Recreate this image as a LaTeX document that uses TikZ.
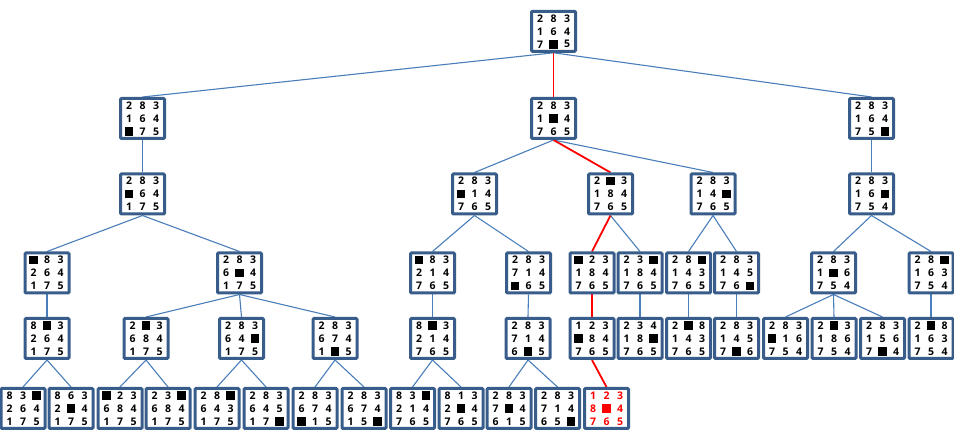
\documentclass[tikz,border=0pt]{standalone}
\usepackage{fontspec}
\setmainfont{Open Sans}
\usetikzlibrary{backgrounds}
\definecolor{boxblue}{HTML}{385D8A}
\definecolor{lineblue}{HTML}{4A7EBB}
\definecolor{pathred}{HTML}{FF0000}
\tikzset{
  pbox/.style={draw=boxblue, line width=3pt, fill=white, rounded corners=1pt,
    minimum width=44pt, minimum height=40pt, inner sep=0pt},
  cellt/.style={inner sep=0pt, font=\fontsize{10.5}{10.5}\selectfont\bfseries},
  edge/.style={draw=lineblue, line width=1.1pt},
  redge/.style={draw=pathred, line width=1.8pt},
}
\newcommand\cell[3]{\node[cellt] at (#1,#2) {\ifx#3B\rule{8.5pt}{8.5pt}\else#3\fi};}
\newcommand\prow[6]{\cell{#1-13.5}{#2+#3}{#4}\cell{#1}{#2+#3}{#5}\cell{#1+13.5}{#2+#3}{#6}}
\newcommand\pz[6]{%
  \node[pbox] (#1) at (#2,#3) {};
  \prow{#2}{#3}{-13}#4
  \prow{#2}{#3}{0}#5
  \prow{#2}{#3}{13}#6}
\begin{document}
\begin{tikzpicture}[x=1pt,y=-1pt]
\useasboundingbox (0,0) rectangle (954,438);
% level 0
\pz{L0}{553.5}{31.3}{283}{164}{7B5}
% level 1
\pz{L1a}{142.5}{118.5}{283}{164}{B75}
\pz{L1b}{553.5}{118.5}{283}{1B4}{765}
\pz{L1c}{871.5}{118.5}{283}{164}{75B}
% level 2
\pz{L2a}{142.5}{194}{283}{B64}{175}
\pz{L2b}{474.5}{194}{283}{B14}{765}
\pz{L2c}{610.5}{194}{2B3}{184}{765}
\pz{L2d}{713}{194}{283}{14B}{765}
\pz{L2e}{871.5}{194}{283}{16B}{754}
% level 3
\pz{L3a}{47}{273}{B83}{264}{175}
\pz{L3b}{239.5}{273}{283}{6B4}{175}
\pz{L3c}{432.5}{273}{B83}{214}{765}
\pz{L3d}{528.5}{273}{283}{714}{B65}
\pz{L3e}{592}{273}{B23}{184}{765}
\pz{L3f}{640}{273}{23B}{184}{765}
\pz{L3g}{688.5}{273}{28B}{143}{765}
\pz{L3h}{736.5}{273}{283}{145}{76B}
\pz{L3i}{833.5}{273}{283}{1B6}{754}
\pz{L3j}{931}{273}{28B}{163}{754}
% level 4
\pz{L4a}{47}{338.5}{8B3}{264}{175}
\pz{L4b}{146}{338.5}{2B3}{684}{175}
\pz{L4c}{241.5}{338.5}{283}{64B}{175}
\pz{L4d}{335}{338.5}{283}{674}{1B5}
\pz{L4e}{432.5}{338.5}{8B3}{214}{765}
\pz{L4f}{528}{338.5}{283}{714}{6B5}
\pz{L4g}{592}{338.5}{123}{B84}{765}
\pz{L4h}{640}{338.5}{234}{18B}{765}
\pz{L4i}{688.5}{338.5}{2B8}{143}{765}
\pz{L4j}{736.5}{338.5}{283}{145}{7B6}
\pz{L4k}{785.5}{338.5}{283}{B16}{754}
\pz{L4l}{834}{338.5}{2B3}{186}{754}
\pz{L4m}{882.5}{338.5}{283}{156}{7B4}
\pz{L4n}{931}{338.5}{2B8}{163}{754}
% level 5
\pz{L5a}{23}{408.5}{83B}{264}{175}
\pz{L5b}{71}{408.5}{863}{2B4}{175}
\pz{L5c}{120}{408.5}{B23}{684}{175}
\pz{L5d}{168}{408.5}{23B}{684}{175}
\pz{L5e}{217}{408.5}{28B}{643}{175}
\pz{L5f}{266}{408.5}{283}{645}{17B}
\pz{L5g}{315}{408.5}{283}{674}{B15}
\pz{L5h}{364}{408.5}{283}{674}{15B}
\pz{L5i}{412.5}{408.5}{83B}{214}{765}
\pz{L5j}{461}{408.5}{813}{2B4}{765}
\pz{L5k}{509}{408.5}{283}{7B4}{615}
\pz{L5l}{557.5}{408.5}{283}{714}{65B}
\begin{scope}[every node/.append style={text=pathred}]
\pz{L5m}{606.5}{408.5}{123}{8B4}{765}
\end{scope}
% connectors
\begin{scope}[on background layer]
\foreach \a/\b in {L0/L1a,L0/L1c,L1a/L2a,L2a/L3a,L2a/L3b,L3a/L4a,L4a/L5a,L4a/L5b,
  L3b/L4b,L3b/L4c,L3b/L4d,L4b/L5c,L4b/L5d,L4c/L5e,L4c/L5f,L4d/L5g,L4d/L5h,
  L1b/L2b,L1b/L2d,L2b/L3c,L2b/L3d,L3c/L4e,L3d/L4f,L4e/L5i,L4e/L5j,L4f/L5k,L4f/L5l,
  L2c/L3f,L3f/L4h,L2d/L3g,L2d/L3h,L3g/L4i,L3h/L4j,
  L1c/L2e,L2e/L3i,L2e/L3j,L3i/L4k,L3i/L4l,L3i/L4m,L3j/L4n}
  \draw[edge] (\a.south) -- (\b.north);
\foreach \a/\b in {L0/L1b,L1b/L2c,L2c/L3e,L3e/L4g,L4g/L5m}
  \draw[redge] (\a.south) -- (\b.north);
\end{scope}
\end{tikzpicture}
\end{document}
